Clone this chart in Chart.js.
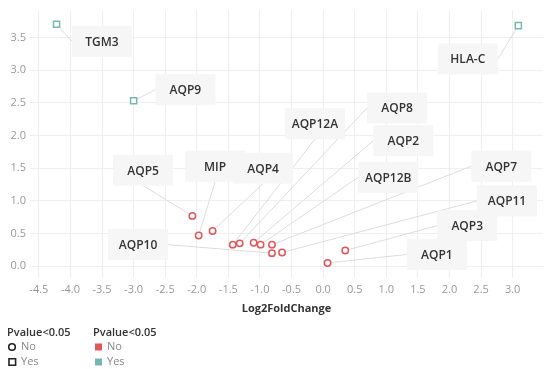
<!DOCTYPE html>
<html>
<head>
<meta charset="utf-8">
<script src="https://cdn.jsdelivr.net/npm/chart.js@4.4.0/dist/chart.umd.min.js"></script>
<style>
  html, body { margin: 0; padding: 0; background: #fff; }
  #wrap { position: relative; width: 550px; height: 369px; }
</style>
</head>
<body>
<div id="wrap"><canvas id="volcanoChart"></canvas></div>
<script>
// gene data
const genes = ['TGM3', 'AQP9', 'HLA-C', 'AQP5', 'MIP', 'AQP4', 'AQP12A', 'AQP8', 'AQP2', 'AQP12B', 'AQP7', 'AQP10', 'AQP11', 'AQP3', 'AQP1'];
const log2FC = [-4.22, -3.00, 3.09, -2.07, -1.97, -1.75, -1.43, -1.32, -1.10, -0.99, -0.81, -0.81, -0.65, 0.35, 0.07];
const yVal = [3.70, 2.53, 3.68, 0.77, 0.47, 0.54, 0.33, 0.35, 0.36, 0.33, 0.33, 0.20, 0.21, 0.24, 0.05];
const pSig = ['Yes', 'Yes', 'Yes', 'No', 'No', 'No', 'No', 'No', 'No', 'No', 'No', 'No', 'No', 'No', 'No'];

// where each name tag sits, in axis units
const tagX = [-3.50, -2.18, 2.29, -2.85, -1.71, -0.95, -0.13, 1.17, 1.27, 1.03, 2.82, -2.93, 2.91, 2.28, 1.80];
const tagY = [3.44, 2.70, 3.17, 1.47, 1.53, 1.50, 2.18, 2.42, 1.92, 1.36, 1.53, 0.33, 1.00, 0.62, 0.18];

const xTicks = [-4.5, -4.0, -3.5, -3.0, -2.5, -2.0, -1.5, -1.0, -0.5, 0.0, 0.5, 1.0, 1.5, 2.0, 2.5, 3.0];
const yTicks = [0.0, 0.5, 1.0, 1.5, 2.0, 2.5, 3.0, 3.5];
const legendItems = ['No', 'Yes'];

const RED = '#e15759';
const TEAL = '#76b7b2';

function pointsFor(flag) {
    const out = [];
    genes.forEach((g, i) => {
        if (pSig[i] === flag) out.push({x: log2FC[i], y: yVal[i]});
    });
    return out;
}

Chart.defaults.font.family = "'Open Sans', sans-serif";

// name tags with leader lines
const tagPlugin = {
    id: 'geneTags',
    beforeDatasetsDraw(chart) {
        const {ctx, scales: {x, y}} = chart;
        const w = 60, h = 31;
        const boxes = genes.map((g, i) => {
            const px = x.getPixelForValue(log2FC[i]);
            const py = y.getPixelForValue(yVal[i]);
            const cx = x.getPixelForValue(tagX[i]);
            const cy = y.getPixelForValue(tagY[i]);
            return {g, px, py, cx, cy};
        });
        ctx.save();
        ctx.strokeStyle = '#dddddd';
        ctx.lineWidth = 1;
        boxes.forEach(b => {
            const dx = b.px - b.cx, dy = b.py - b.cy;
            const ex = Math.abs(dx) - w / 2, ey = Math.abs(dy) - h / 2;
            let ax = b.cx, ay = b.cy;
            if (ex >= ey) ax = b.cx + Math.sign(dx) * w / 2;
            else ay = b.cy + Math.sign(dy) * h / 2;
            ctx.beginPath();
            ctx.moveTo(ax, ay);
            ctx.lineTo(b.px, b.py);
            ctx.stroke();
        });
        ctx.font = "600 12px 'Open Sans', sans-serif";
        ctx.textAlign = 'center';
        ctx.textBaseline = 'middle';
        boxes.forEach(b => {
            ctx.fillStyle = '#f6f6f6';
            ctx.fillRect(b.cx - w / 2, b.cy - h / 2, w, h);
            ctx.fillStyle = '#333333';
            ctx.fillText(b.g, b.cx, b.cy + 1);
        });
        ctx.restore();
    }
};

// the two small legends under the axis
const legendPlugin = {
    id: 'twoLegends',
    afterDraw(chart) {
        const ctx = chart.ctx;
        ctx.save();
        ctx.textBaseline = 'middle';
        ctx.textAlign = 'left';
        ctx.font = "600 11px 'Open Sans', sans-serif";
        ctx.fillStyle = '#333333';
        ctx.fillText('Pvalue<0.05', 7, 333);
        ctx.fillText('Pvalue<0.05', 93, 333);

        ctx.font = "11px 'Open Sans', sans-serif";
        legendItems.forEach((lab, i) => {
            const ly = 347 + i * 15;
            ctx.strokeStyle = '#222222';
            ctx.lineWidth = 1.6;
            ctx.beginPath();
            if (i === 0) ctx.arc(12, ly, 3.3, 0, Math.PI * 2);
            else ctx.rect(9, ly - 3.3, 6.6, 6.6);
            ctx.stroke();
            ctx.fillStyle = '#888888';
            ctx.fillText(lab, 21, ly);

            ctx.fillStyle = i === 0 ? RED : TEAL;
            ctx.fillRect(95, ly - 3.5, 7, 7);
            ctx.fillStyle = '#888888';
            ctx.fillText(lab, 107, ly);
        });
        ctx.restore();
    }
};

const ctxEl = document.getElementById('volcanoChart');
new Chart(ctxEl, {
    type: 'scatter',
    data: {
        datasets: [
            {
                label: 'No',
                data: pointsFor('No'),
                pointStyle: 'circle',
                radius: 3.2,
                borderWidth: 1.5,
                borderColor: RED,
                backgroundColor: '#ffffff'
            },
            {
                label: 'Yes',
                data: pointsFor('Yes'),
                pointStyle: 'rect',
                radius: 4.3,
                borderWidth: 1.5,
                borderColor: TEAL,
                backgroundColor: '#ffffff'
            }
        ]
    },
    options: {
        responsive: true,
        maintainAspectRatio: false,
        animation: false,
        layout: {padding: {top: 8, right: 7, bottom: 51, left: 0}},
        plugins: {
            legend: {display: false},
            tooltip: {enabled: false}
        },
        scales: {
            x: {
                type: 'linear',
                min: -4.64,
                max: 3.48,
                afterBuildTicks: s => { s.ticks = xTicks.map(v => ({value: v})); },
                afterFit: s => { s.height = 40; },
                grid: {color: '#efefef', drawTicks: false},
                border: {display: false},
                ticks: {
                    color: '#999999',
                    font: {size: 11},
                    padding: 5,
                    maxRotation: 0,
                    callback: v => v.toFixed(1)
                },
                title: {
                    display: true,
                    text: 'Log2FoldChange',
                    color: '#333333',
                    font: {size: 11, weight: 'bold'},
                    padding: {top: 0, bottom: 3}
                }
            },
            y: {
                type: 'linear',
                min: -0.18,
                max: 3.91,
                afterBuildTicks: s => { s.ticks = yTicks.map(v => ({value: v})); },
                afterFit: s => { s.width = 30; },
                grid: {color: '#efefef', drawTicks: false},
                border: {display: false},
                ticks: {
                    color: '#999999',
                    font: {size: 11},
                    padding: 4,
                    callback: v => v.toFixed(1)
                }
            }
        }
    },
    plugins: [tagPlugin, legendPlugin]
});
</script>
</body>
</html>
